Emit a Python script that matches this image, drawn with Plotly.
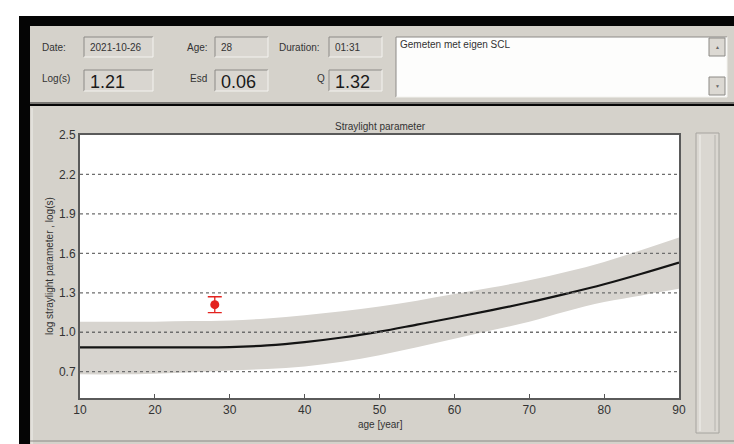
import plotly.graph_objects as go

# ---------------- data ----------------
ages = [10, 15, 20, 25, 30, 35, 40, 45, 50, 55, 60, 65, 70, 75, 80, 85, 90]
norm_mean = [0.885, 0.885, 0.885, 0.885, 0.887, 0.9, 0.925, 0.96, 1.005, 1.058,
             1.112, 1.168, 1.228, 1.294, 1.365, 1.445, 1.53]
norm_upper = [1.08, 1.08, 1.08, 1.085, 1.09, 1.105, 1.13, 1.16, 1.195, 1.24,
              1.29, 1.34, 1.395, 1.46, 1.535, 1.625, 1.72]
norm_lower = [0.68, 0.68, 0.685, 0.695, 0.71, 0.72, 0.74, 0.775, 0.825, 0.885,
              0.95, 1.015, 1.08, 1.16, 1.23, 1.28, 1.33]

meas_age = [28]
meas_logs = [1.21]
meas_esd = [0.06]

x_ticks = [10, 20, 30, 40, 50, 60, 70, 80, 90]
y_ticks = [0.7, 1.0, 1.3, 1.6, 1.9, 2.2, 2.5]
y_tick_labels = ["0.7", "1.0", "1.3", "1.6", "1.9", "2.2", "2.5"]
grid_values = [0.7, 1.0, 1.3, 1.6, 1.9, 2.2]

fields = {"Date:": "2021-10-26", "Age:": "28", "Duration:": "01:31",
          "Log(s)": "1.21", "Esd": "0.06", "Q": "1.32"}
comment = "Gemeten met eigen SCL"

# ---------------- layout helpers ----------------
W, H = 734, 444
PANEL = "#d5d2cb"
FONT = "Liberation Sans, Arial, sans-serif"
TXT = "#333333"


def px(x):
    return x / W


def py(y):
    return 1 - y / H


shapes = []
annotations = []


def rect(x0, y0, x1, y1, fill, line=None, lw=0, layer="below"):
    shapes.append(dict(type="rect", xref="paper", yref="paper",
                       x0=px(x0), x1=px(x1), y0=py(y1), y1=py(y0),
                       fillcolor=fill, line=dict(color=line or fill, width=lw),
                       layer=layer))


def hline(x0, x1, y, color, w=1, layer="below"):
    shapes.append(dict(type="line", xref="paper", yref="paper",
                       x0=px(x0), x1=px(x1), y0=py(y), y1=py(y),
                       line=dict(color=color, width=w), layer=layer))


def vline(x, y0, y1, color, w=1, layer="below"):
    shapes.append(dict(type="line", xref="paper", yref="paper",
                       x0=px(x), x1=px(x), y0=py(y0), y1=py(y1),
                       line=dict(color=color, width=w), layer=layer))


def sunken(x0, y0, x1, y1, fill):
    rect(x0, y0, x1, y1, fill)
    hline(x0, x1, y0, "#8c8a86")
    vline(x0, y0, y1, "#8c8a86")
    hline(x0, x1, y1, "#f4f3f0")
    vline(x1, y0, y1, "#f4f3f0")


def text(x, y, s, size=10, anchor="left", color=TXT, angle=0, family=FONT):
    annotations.append(dict(xref="paper", yref="paper", x=px(x), y=py(y),
                            text=s, showarrow=False, xanchor=anchor,
                            yanchor="middle", textangle=angle,
                            font=dict(size=size, color=color, family=family)))


# window chrome
rect(19, 16, W, H, "#050505")
rect(30, 26, W, 102, PANEL)
hline(30, W, 103, "#7a7874", 2)
rect(30, 106, W, H, PANEL)
vline(32, 108, H, "#f0efeb")
hline(30, W, 441, "#8c8a86")
# white plotting area
rect(80, 135, 679, 398, "#ffffff")

# top fields
labels = list(fields.keys())
values = list(fields.values())
label_pos = [(40, 47), (185, 47), (277, 47), (40, 79), (188, 79), (315, 79)]
box_pos = [(84, 37, 153, 57), (215, 37, 268, 57), (329, 37, 382, 57),
           (84, 70, 153, 91), (215, 70, 268, 91), (329, 70, 382, 91)]
for i, (lab, val) in enumerate(zip(labels, values)):
    lx, ly = label_pos[i]
    text(lx, ly, lab, size=10)
    bx0, by0, bx1, by1 = box_pos[i]
    sunken(bx0, by0, bx1, by1, "#d9d6d0")
    big = i >= 3
    text(bx0 + 4, (by0 + by1) / 2 + (1 if big else 0), val,
         size=18 if big else 10, color="#1a1a1a" if big else TXT)

# comment box
sunken(396, 37, 727, 97, "#fdfdfc")
text(398, 45, comment, size=10)
rect(709, 38, 725, 56, "#dcd9d3", "#8c8a86", 1)
rect(709, 77, 725, 95, "#dcd9d3", "#8c8a86", 1)
text(717, 47, "▲", size=5, anchor="center", color="#666")
text(717, 86, "▼", size=5, anchor="center", color="#666")

# right vertical bar
rect(696, 133, 719, 433, "#dad7d1", "#a6a49f", 1)
vline(700, 135, 431, "#f2f1ee")
vline(715, 135, 431, "#b5b3ae")

# chart labels
text(380, 126, "Straylight parameter", size=10, anchor="center")
text(380, 424, "age [year]", size=10, anchor="center")
text(49, 266, "log straylight parameter , log(s)", size=10, anchor="center",
     angle=-90)

# grid lines drawn above the band
for g in grid_values:
    shapes.append(dict(type="line", xref="x", yref="y", x0=ages[0], x1=ages[-1],
                       y0=g, y1=g, layer="above",
                       line=dict(color="#6e6e6e", width=1.3, dash="dot")))

# ---------------- traces ----------------
fig = go.Figure()
fig.add_trace(go.Scatter(x=ages, y=norm_upper, mode="lines",
                         line=dict(color="#d7d4cf", width=0, shape="spline"),
                         hoverinfo="skip"))
fig.add_trace(go.Scatter(x=ages, y=norm_lower, mode="lines", fill="tonexty",
                         fillcolor="#d7d4cf",
                         line=dict(color="#d7d4cf", width=0, shape="spline"),
                         hoverinfo="skip"))
fig.add_trace(go.Scatter(x=ages, y=norm_mean, mode="lines",
                         line=dict(color="#141414", width=2.2, shape="spline")))
fig.add_trace(go.Scatter(x=meas_age, y=meas_logs, mode="markers",
                         marker=dict(color="#e3231f", size=9),
                         error_y=dict(type="data", array=meas_esd, visible=True,
                                      color="#e3231f", thickness=1.3, width=7)))

fig.update_layout(
    width=W, height=H, margin=dict(l=0, r=0, t=0, b=0, autoexpand=False),
    paper_bgcolor="white", plot_bgcolor="white", showlegend=False,
    shapes=shapes, annotations=annotations,
    font=dict(family=FONT, size=11, color=TXT),
    xaxis=dict(domain=[px(80), px(679)], range=[10, 90], tickvals=x_ticks,
               ticks="inside", ticklen=4, tickcolor="#555", showgrid=False,
               zeroline=False, showline=True, linecolor="#5a5a5a", linewidth=2,
               mirror=True, tickfont=dict(size=12, color=TXT), automargin=False),
    yaxis=dict(domain=[py(398), py(135)], range=[0.5, 2.5], tickvals=y_ticks,
               ticktext=y_tick_labels, ticks="", showgrid=False, zeroline=False,
               showline=True, linecolor="#5a5a5a", linewidth=2, mirror=True,
               tickfont=dict(size=12, color=TXT), automargin=False),
)

fig.write_html("out.html", config={"displayModeBar": False},
               post_script="document.body.style.margin='0';"
                           "document.documentElement.style.overflow='hidden';"
                           "document.body.style.overflow='hidden';")
